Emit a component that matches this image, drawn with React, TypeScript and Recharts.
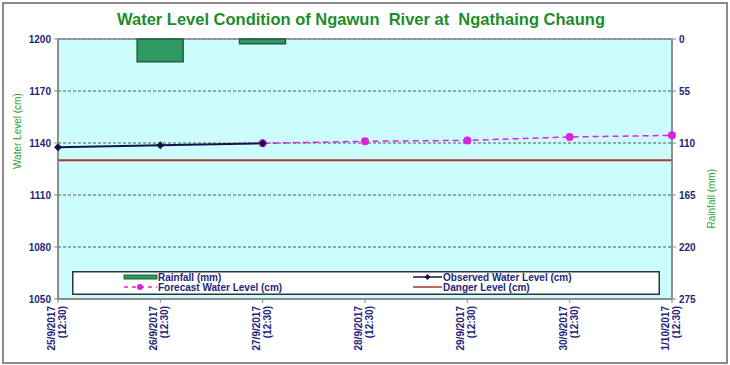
import {
  ComposedChart,
  Bar,
  Line,
  XAxis,
  YAxis,
  CartesianGrid,
  ReferenceArea,
} from "recharts";

const DATES = [
  "25/9/2017",
  "26/9/2017",
  "27/9/2017",
  "28/9/2017",
  "29/9/2017",
  "30/9/2017",
  "1/10/2017",
];
const TIME_LABEL = "(12:30)";

// rainfall in mm, read on the reversed right axis
const rainfall = [null, 24, 5, null, null, null, null];
// water levels in cm
const observed = [1137.5, 1138.7, 1139.8, null, null, null, null];
const forecast = [null, null, 1139.8, 1141, 1141.5, 1143.5, 1144.4];
const DANGER_LEVEL = 1130;

const LEFT_TICKS = [1050, 1080, 1110, 1140, 1170, 1200];
const RIGHT_TICKS = [0, 55, 110, 165, 220, 275];

const NAVY = "#25257a";
const GREEN_TITLE = "#1f8c2a";
const FONT = "'Liberation Sans', Arial, sans-serif";

const chartData = DATES.map((d, i) => ({
  idx: i,
  date: d,
  rainfall: rainfall[i],
  observed: observed[i],
  forecast: forecast[i],
  danger: DANGER_LEVEL,
}));

const DateTick = ({ x, y, payload }: any) => {
  const label = DATES[payload.value];
  return (
    <g transform={`translate(${x},${y + 1})`}>
      <text
        transform="rotate(-90)"
        textAnchor="end"
        fontSize={10}
        fontWeight="bold"
        fill={NAVY}
        fontFamily={FONT}
      >
        <tspan x={0} y={-3}>
          {label}
        </tspan>
        <tspan x={0} y={8}>
          {TIME_LABEL}
        </tspan>
      </text>
    </g>
  );
};

const Diamond = ({ cx, cy, key }: any) => {
  if (cx == null || cy == null) return <g key={key} />;
  return (
    <polygon
      key={key}
      points={`${cx},${cy - 4} ${cx + 4},${cy} ${cx},${cy + 4} ${cx - 4},${cy}`}
      fill="#14144a"
    />
  );
};

const LegendBox = () => (
  <svg width={588} height={24} style={{ display: "block" }}>
    <rect x={0.75} y={0.75} width={586.5} height={22.5} fill="#fff" stroke="#333" strokeWidth={1.5} />
    <g fontFamily={FONT} fontSize={10} fontWeight="bold" fill={NAVY}>
      <rect x={52} y={4} width={33} height={4} fill="#2e9960" stroke="#1f5f3f" strokeWidth={1} />
      <text x={86} y={9.5}>Rainfall (mm)</text>

      <line x1={52} x2={85} y1={16} y2={16} stroke="#e020e0" strokeWidth={1.5} strokeDasharray="4 4" />
      <circle cx={68} cy={16} r={3} fill="#e020e0" />
      <text x={86} y={19.5}>Forecast Water Level (cm)</text>

      <line x1={341} x2={370} y1={6} y2={6} stroke="#14144a" strokeWidth={1.5} />
      <polygon points="355.5,3 358.5,6 355.5,9 352.5,6" fill="#14144a" />
      <text x={371} y={9.5}>Observed Water Level (cm)</text>

      <line x1={341} x2={370} y1={16} y2={16} stroke="#a53a32" strokeWidth={1.5} />
      <text x={371} y={19.5}>Danger Level (cm)</text>
    </g>
  </svg>
);

export default function App() {
  return (
    <div
      style={{
        position: "absolute",
        left: 0,
        top: 0,
        width: 730,
        height: 365,
        background: "#fff",
        fontFamily: FONT,
      }}
    >
      <div
        style={{
          position: "absolute",
          left: 2,
          top: 2,
          width: 722,
          height: 358,
          border: "2px solid #8a8a8a",
        }}
      />
      <div
        style={{
          position: "absolute",
          top: 10,
          left: 0,
          width: 722,
          textAlign: "center",
          color: GREEN_TITLE,
          fontWeight: "bold",
          fontSize: 16.5,
          whiteSpace: "pre",
        }}
      >
        {"Water Level Condition of Ngawun  River at  Ngathaing Chaung"}
      </div>
      <ComposedChart
        width={730}
        height={365}
        data={chartData}
        margin={{ top: 39, right: 5, bottom: 5, left: 5 }}
      >
        <CartesianGrid
          yAxisId="level"
          vertical={false}
          fill="#ccfcfc"
          stroke="#555"
          strokeDasharray="3 2"
        />
        <XAxis
          dataKey="idx"
          type="number"
          domain={[0, 6]}
          ticks={[0, 1, 2, 3, 4, 5, 6]}
          height={61}
          tick={<DateTick />}
          tickSize={4}
          axisLine={{ stroke: "#888", strokeWidth: 1.5 }}
          tickLine={{ stroke: "#888" }}
          interval={0}
        />
        <YAxis
          yAxisId="level"
          domain={[1050, 1200]}
          ticks={LEFT_TICKS}
          width={53}
          tickSize={4}
          tickMargin={3}
          interval={0}
          axisLine={{ stroke: "#888", strokeWidth: 1.5 }}
          tickLine={{ stroke: "#888" }}
          tick={{ fontSize: 10, fontWeight: "bold", fill: NAVY, fontFamily: FONT }}
          label={{
            value: "Water Level (cm)",
            angle: -90,
            position: "insideLeft",
            offset: 12,
            fill: "#2aa02a",
            fontSize: 10,
            fontFamily: FONT,
          }}
        />
        <YAxis
          yAxisId="rain"
          orientation="right"
          reversed
          domain={[0, 275]}
          ticks={RIGHT_TICKS}
          width={53}
          tickSize={4}
          tickMargin={3}
          interval={0}
          axisLine={{ stroke: "#888", strokeWidth: 1.5 }}
          tickLine={{ stroke: "#888" }}
          tick={{ fontSize: 10, fontWeight: "bold", fill: NAVY, fontFamily: FONT }}
          label={{
            value: "Rainfall (mm)",
            angle: -90,
            position: "insideRight",
            offset: 14,
            fill: "#2aa02a",
            fontSize: 10,
            fontFamily: FONT,
          }}
        />
        <ReferenceArea
          yAxisId="level"
          x1={0}
          x2={6}
          y1={1050}
          y2={1200}
          fill="none"
          stroke="#888"
          strokeWidth={1.5}
        />
        <Bar
          yAxisId="rain"
          dataKey="rainfall"
          barSize={46}
          fill="#2e9960"
          stroke="#1f5f3f"
          strokeWidth={1.5}
          isAnimationActive={false}
        />
        <Line
          yAxisId="level"
          dataKey="danger"
          stroke="#a53a32"
          strokeWidth={2}
          dot={false}
          isAnimationActive={false}
        />
        <Line
          yAxisId="level"
          dataKey="forecast"
          stroke="#e020e0"
          strokeWidth={1.5}
          strokeDasharray="6 4"
          dot={{ r: 4, fill: "#e020e0", stroke: "#e020e0", strokeWidth: 0 }}
          isAnimationActive={false}
        />
        <Line
          yAxisId="level"
          dataKey="observed"
          stroke="#14144a"
          strokeWidth={2}
          dot={<Diamond />}
          isAnimationActive={false}
        />
      </ComposedChart>
      <div style={{ position: "absolute", left: 72, top: 271 }}>
        <LegendBox />
      </div>
    </div>
  );
}
